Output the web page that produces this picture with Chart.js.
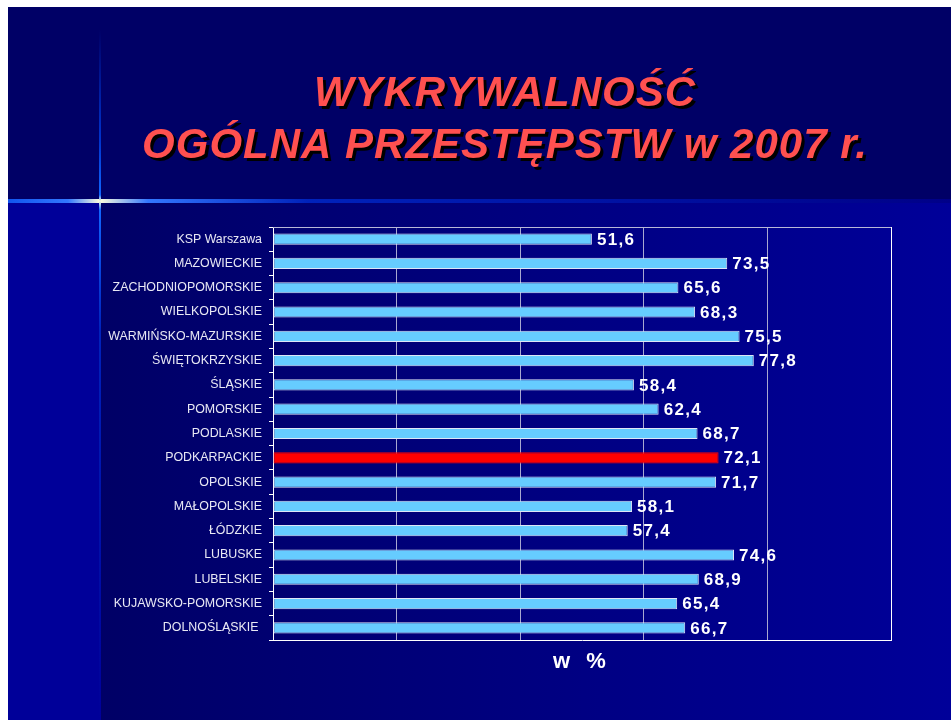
<!DOCTYPE html>
<html>
<head>
<meta charset="utf-8">
<script src="https://cdn.jsdelivr.net/npm/chart.js@4.4.0/dist/chart.umd.min.js"></script>
<style>
    html, body { margin: 0; padding: 0; background: #ffffff; }
    canvas { display: block; }
</style>
</head>
<body>
<canvas id="myChart" width="951" height="720"></canvas>
<script>
// data
var regions = [
    'KSP Warszawa',
    'MAZOWIECKIE',
    'ZACHODNIOPOMORSKIE',
    'WIELKOPOLSKIE',
    'WARMIŃSKO-MAZURSKIE',
    'ŚWIĘTOKRZYSKIE',
    'ŚLĄSKIE',
    'POMORSKIE',
    'PODLASKIE',
    'PODKARPACKIE',
    'OPOLSKIE',
    'MAŁOPOLSKIE',
    'ŁÓDZKIE',
    'LUBUSKE',
    'LUBELSKIE',
    'KUJAWSKO-POMORSKIE',
    'DOLNOŚLĄSKIE '
];
var detection = [51.6, 73.5, 65.6, 68.3, 75.5, 77.8, 58.4, 62.4, 68.7, 72.1, 71.7, 58.1, 57.4, 74.6, 68.9, 65.4, 66.7];
var highlighted = 'PODKARPACKIE';
var xMin = 0;
var xMax = 100;
var xStep = 20;
var titleLines = ['WYKRYWALNOŚĆ', 'OGÓLNA PRZESTĘPSTW w 2007 r.'];
var axisTitle = 'w %';

var FONT = '"Liberation Sans", Arial, sans-serif';

var barColors = regions.map(function (r) { return r === highlighted ? '#ff0000' : '#66ccff'; });
var barBorders = regions.map(function (r) { return r === highlighted ? '#ff0000' : '#dde6f6'; });

// slide background, glow lines and the big title
const slidePlugin = {
    id: 'slide',
    beforeDraw: function (chart) {
        var ctx = chart.ctx;
        var w = chart.width, h = chart.height;
        ctx.save();
        ctx.fillStyle = '#ffffff';
        ctx.fillRect(0, 0, w, h);

        // upper part
        ctx.fillStyle = '#000066';
        ctx.fillRect(8, 7, w - 8, h - 7);

        // lower part gradient
        var g = ctx.createLinearGradient(100, 0, w, 0);
        g.addColorStop(0, '#000066');
        g.addColorStop(1, '#000099');
        ctx.fillStyle = g;
        ctx.fillRect(100, 203, w - 100, h - 203);

        // left band
        ctx.fillStyle = '#000099';
        ctx.fillRect(8, 203, 92, h - 203);

        // horizontal glow line
        var gh = ctx.createLinearGradient(8, 0, w, 0);
        gh.addColorStop(0, '#1155ee');
        gh.addColorStop(60 / 943, '#3377ff');
        gh.addColorStop(92 / 943, '#ffffdd');
        gh.addColorStop(140 / 943, '#3377ff');
        gh.addColorStop(300 / 943, '#0022bb');
        gh.addColorStop(1, '#000088');
        ctx.fillStyle = gh;
        ctx.fillRect(8, 199, w - 8, 4);

        // vertical glow line
        var gv = ctx.createLinearGradient(0, 30, 0, h);
        gv.addColorStop(0, '#000066');
        gv.addColorStop(110 / 690, '#0033cc');
        gv.addColorStop(165 / 690, '#1166ff');
        gv.addColorStop(171 / 690, '#ffffdd');
        gv.addColorStop(180 / 690, '#1166ff');
        gv.addColorStop(300 / 690, '#0022bb');
        gv.addColorStop(1, '#000099');
        ctx.fillStyle = gv;
        ctx.fillRect(99, 30, 2, h - 30);

        // title
        ctx.font = 'italic bold 42px ' + FONT;
        ctx.letterSpacing = '1px';
        ctx.textAlign = 'center';
        ctx.textBaseline = 'alphabetic';
        ctx.shadowColor = '#000000';
        ctx.shadowOffsetX = 3;
        ctx.shadowOffsetY = 3;
        ctx.shadowBlur = 0;
        ctx.fillStyle = '#ff5050';
        ctx.fillText(titleLines[0], 505, 106);
        ctx.fillText(titleLines[1], 505, 158);
        ctx.restore();
    },
    afterDraw: function (chart) {
        var ctx = chart.ctx;
        var a = chart.chartArea;
        ctx.save();
        // top edge of the plot frame
        ctx.strokeStyle = '#b8b8d8';
        ctx.lineWidth = 1;
        ctx.beginPath();
        ctx.moveTo(a.left, a.top + 0.5);
        ctx.lineTo(a.right, a.top + 0.5);
        ctx.stroke();

        // axis caption
        ctx.font = 'bold 22px ' + FONT;
        ctx.letterSpacing = '5px';
        ctx.fillStyle = '#ffffff';
        ctx.textAlign = 'center';
        ctx.textBaseline = 'middle';
        ctx.fillText(axisTitle, (a.left + a.right) / 2, 662);
        ctx.restore();
    }
};

// numbers at the end of each bar
const valueLabels = {
    id: 'valueLabels',
    afterDatasetsDraw: function (chart) {
        var ctx = chart.ctx;
        var meta = chart.getDatasetMeta(0);
        ctx.save();
        ctx.font = 'bold 17px ' + FONT;
        ctx.letterSpacing = '1.3px';
        ctx.fillStyle = '#ffffff';
        ctx.textAlign = 'left';
        ctx.textBaseline = 'middle';
        meta.data.forEach(function (bar, i) {
            var txt = detection[i].toFixed(1).replace('.', ',');
            ctx.fillText(txt, bar.x + 5, bar.y + 1);
        });
        ctx.restore();
    }
};

const ctx = document.getElementById('myChart').getContext('2d');
const myChart = new Chart(ctx, {
    type: 'bar',
    data: {
        labels: regions,
        datasets: [{
            data: detection,
            backgroundColor: barColors,
            borderColor: barBorders,
            borderWidth: 1,
            borderSkipped: false,
            barPercentage: 0.46,
            categoryPercentage: 1.0
        }]
    },
    options: {
        indexAxis: 'y',
        responsive: false,
        maintainAspectRatio: false,
        animation: false,
        layout: {
            padding: { top: 227, right: 60, bottom: 80, left: 0 }
        },
        plugins: {
            legend: { display: false },
            title: { display: false },
            tooltip: { enabled: false }
        },
        scales: {
            x: {
                min: xMin,
                max: xMax,
                ticks: { display: false, stepSize: xStep },
                grid: {
                    drawTicks: false,
                    color: function (c) {
                        return c.tick && c.tick.value === xMax ? '#ffffff' : '#a8a8d0';
                    }
                },
                border: { color: '#ffffff', width: 1 },
                afterFit: function (s) { s.height = 0; }
            },
            y: {
                ticks: {
                    color: '#e8e8f4',
                    padding: 7,
                    font: { family: FONT, size: 12.4 }
                },
                grid: {
                    drawOnChartArea: false,
                    drawTicks: true,
                    tickLength: 4,
                    color: '#ffffff'
                },
                border: { color: '#ffffff', width: 1 },
                afterFit: function (s) { s.width = 273; }
            }
        }
    },
    plugins: [slidePlugin, valueLabels]
});
</script>
</body>
</html>
